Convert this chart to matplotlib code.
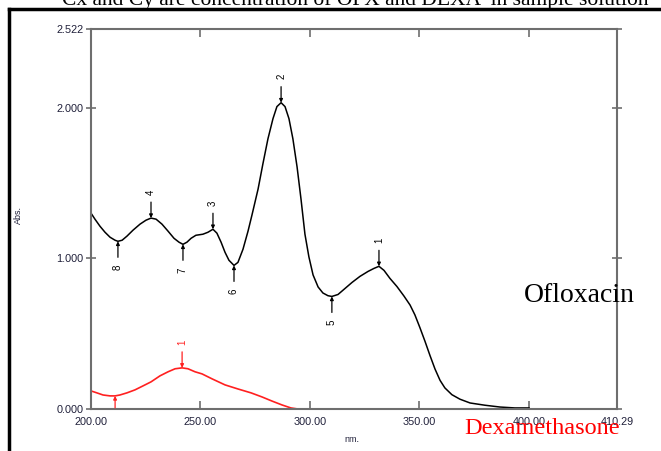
import matplotlib
matplotlib.use('Agg')
import matplotlib.pyplot as plt
from matplotlib.lines import Line2D

# spectra (wavelength in nm, absorbance)
oflx_nm = [200.0, 201.8, 204.1, 206.4, 208.7, 211.0, 212.3, 214.2, 216.4, 219.2,
           222.4, 225.1, 227.4, 229.7, 232.4, 235.2, 237.9, 240.2, 242.0, 243.8,
           245.7, 247.9, 251.1, 253.4, 255.7, 257.5, 259.4, 261.2, 263.0, 265.3,
           267.1, 269.4, 271.7, 273.5, 276.3, 278.5, 280.8, 283.1, 284.9, 286.8,
           288.6, 290.4, 292.2, 294.1, 295.9, 297.7, 299.5, 301.4, 303.7, 305.9,
           308.2, 310.0, 312.8, 316.0, 319.2, 322.8, 326.5, 329.2, 331.5, 333.8,
           336.5, 339.7, 342.9, 345.7, 347.9, 350.2, 352.5, 354.8, 357.1, 359.4,
           361.6, 364.8, 368.5, 373.1, 379.9, 386.8, 393.6, 400.0]
oflx_abs = [1.300, 1.260, 1.213, 1.173, 1.140, 1.120, 1.113, 1.120, 1.147, 1.187,
            1.227, 1.253, 1.267, 1.260, 1.227, 1.180, 1.133, 1.107, 1.093, 1.107,
            1.133, 1.153, 1.160, 1.173, 1.193, 1.167, 1.107, 1.040, 0.987, 0.953,
            0.973, 1.060, 1.180, 1.287, 1.460, 1.627, 1.793, 1.927, 2.007, 2.033,
            2.007, 1.927, 1.793, 1.607, 1.393, 1.160, 1.010, 0.890, 0.810, 0.770,
            0.752, 0.747, 0.760, 0.800, 0.840, 0.880, 0.913, 0.933, 0.947, 0.920,
            0.867, 0.813, 0.750, 0.690, 0.625, 0.540, 0.450, 0.355, 0.265, 0.190,
            0.140, 0.095, 0.065, 0.040, 0.025, 0.013, 0.007, 0.007]

dexa_nm = [200.0, 202.7, 205.5, 208.7, 211.0, 213.2, 216.4, 220.1, 223.7, 227.4,
           231.5, 235.2, 238.4, 241.6, 244.3, 247.5, 250.7, 255.3, 261.2, 267.1,
           273.1, 278.1, 282.6, 287.2, 291.3, 294.5, 300.0, 350.0, 400.0]
dexa_abs = [0.120, 0.107, 0.093, 0.087, 0.087, 0.093, 0.107, 0.127, 0.153, 0.180,
            0.220, 0.247, 0.267, 0.273, 0.267, 0.247, 0.233, 0.200, 0.160, 0.133,
            0.107, 0.080, 0.053, 0.027, 0.007, 0.0, 0.0, 0.0, 0.0]

# peak / valley picks
oflx_peak_nm = [331.5, 286.8, 255.7, 227.4]
oflx_peak_abs = [0.947, 2.033, 1.193, 1.267]
oflx_peak_lbl = ['1', '2', '3', '4']
oflx_valley_nm = [310.0, 265.3, 242.0, 212.3]
oflx_valley_abs = [0.747, 0.953, 1.093, 1.113]
oflx_valley_lbl = ['5', '6', '7', '8']
dexa_peak_nm = [241.6]
dexa_peak_abs = [0.273]
dexa_peak_lbl = ['1']
dexa_valley_nm = [211.0]
dexa_valley_abs = [0.087]

xticks = [200, 250, 300, 350, 400, 440.2]
xtick_labels = ['200.00', '250.00', '300.00', '350.00', '400.00', '410.29']
yticks = [0.0, 1.0, 2.0, 2.522]
ytick_labels = ['0.000', '1.000', '2.000', '2.522']

plt.rcParams['font.family'] = ['Liberation Sans', 'DejaVu Sans']

fig = plt.figure(figsize=(6.61, 4.51), dpi=100)
ax = fig.add_axes([91/661, 42/451, 526/661, 380/451])

ax.plot(oflx_nm, oflx_abs, color='black', lw=1.1)
ax.plot(dexa_nm, dexa_abs, color='#ff2020', lw=1.2)


def pick(x, y, lbl, up, color):
    # arrow pointing at the curve, label rotated next to it
    sign = 1 if up else -1
    ax.annotate('', xy=(x, y), xytext=(0, sign*16), textcoords='offset pixels',
                arrowprops=dict(arrowstyle='-|>', lw=0.9, color=color,
                                mutation_scale=5, shrinkA=0, shrinkB=0),
                annotation_clip=False)
    if lbl:
        ax.annotate(lbl, xy=(x, y), xytext=(0, sign*26), textcoords='offset pixels',
                    rotation=90, ha='center', va='center', fontsize=7, color=color)


for x, y, l in zip(oflx_peak_nm, oflx_peak_abs, oflx_peak_lbl):
    pick(x, y, l, True, 'black')
for x, y, l in zip(oflx_valley_nm, oflx_valley_abs, oflx_valley_lbl):
    pick(x, y, l, False, 'black')
for x, y, l in zip(dexa_peak_nm, dexa_peak_abs, dexa_peak_lbl):
    pick(x, y, l, True, '#ff2020')
for x, y in zip(dexa_valley_nm, dexa_valley_abs):
    ax.annotate('', xy=(x, y), xytext=(0, -12), textcoords='offset pixels',
                arrowprops=dict(arrowstyle='-|>', lw=0.9, color='#ff2020',
                                mutation_scale=5, shrinkA=0, shrinkB=0))

ax.set_xlim(200, 440.2)
ax.set_ylim(0, 2.522)
ax.set_xticks(xticks)
ax.set_xticklabels(xtick_labels)
ax.set_yticks(yticks)
ax.set_yticklabels(ytick_labels)
for s in ax.spines.values():
    s.set_color('#6e6e6e')
    s.set_linewidth(1.5)
ax.tick_params(axis='x', direction='in', top=True, length=6, width=1.2,
               color='#6e6e6e', labelsize=7.8, pad=6, labelcolor='#20203a')
ax.tick_params(axis='y', direction='inout', right=True, length=7, width=1.2,
               color='#6e6e6e', labelsize=7.8, pad=2, labelcolor='#20203a')

fig.text(352/661, 1 - 440/451, 'nm.', ha='center', va='center', fontsize=6.5,
         color='#20203a')
fig.text(18/661, 1 - 215/451, 'Abs.', ha='center', va='center', fontsize=6.5,
         rotation=90, color='#20203a')

fig.text(579/661, 1 - 296/451, 'Ofloxacin', ha='center', va='center',
         fontsize=20, family='Liberation Serif', color='black')
fig.text(542/661, 1 - 428/451, 'Dexamethasone', ha='center', va='center',
         fontsize=17.5, family='Liberation Serif', color='#ff0000')

# clipped caption at the very top
fig.text(355/661, 1 - 4.5/451, 'Cx and Cy are concentration of OFX and DEXA  in sample solution',
         ha='center', va='baseline', fontsize=15.5, family='Liberation Serif', color='black')

# outer frame (left and top)
fig.add_artist(Line2D([9/661, 9/661], [0, 1 - 9/451], transform=fig.transFigure,
                      color='black', lw=2.5))
fig.add_artist(Line2D([9/661, 1], [1 - 9/451, 1 - 9/451], transform=fig.transFigure,
                      color='black', lw=2.5))

fig.savefig('out.png', dpi=100)
